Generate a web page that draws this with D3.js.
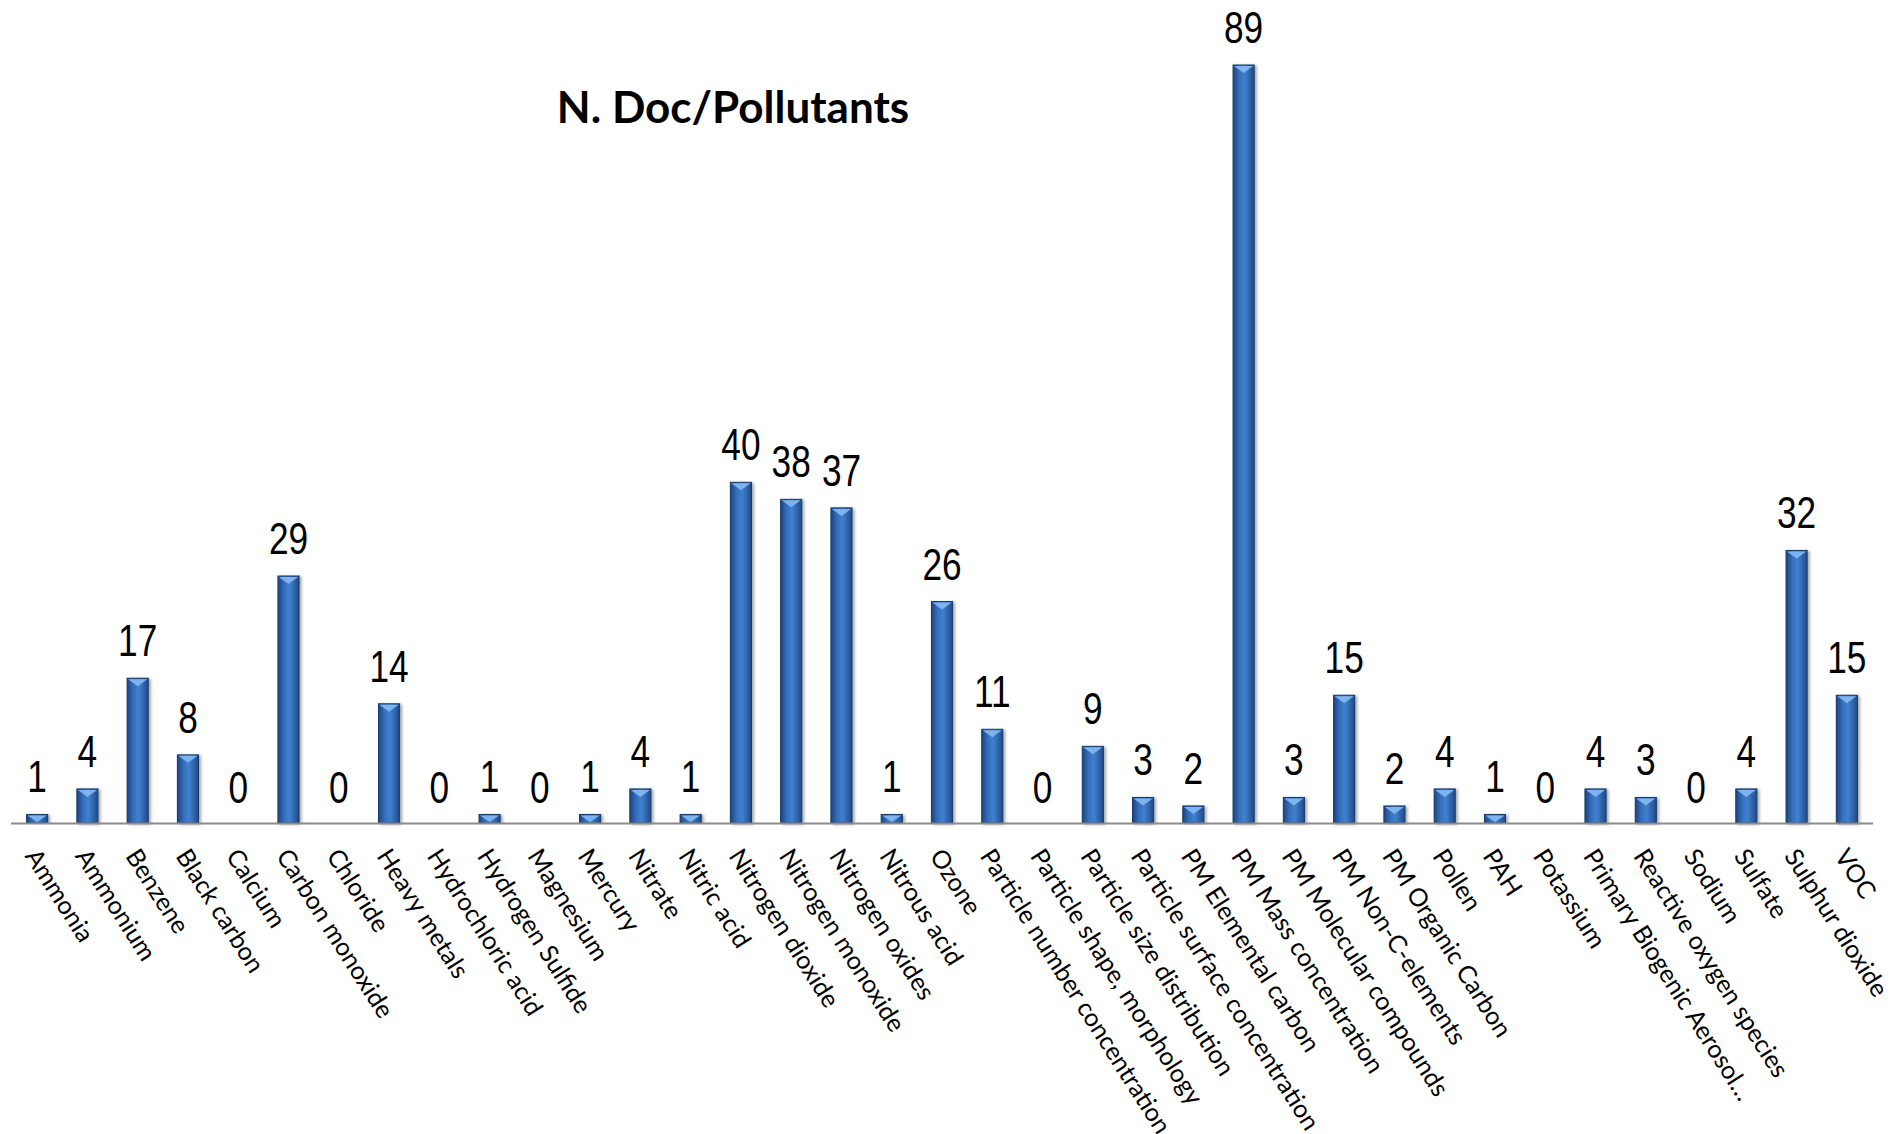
<!DOCTYPE html>
<html>
<head>
<meta charset="utf-8">
<script src="https://cdn.jsdelivr.net/npm/d3@7"></script>
<style>
  html, body { margin: 0; padding: 0; background: #fff; }
  svg { display: block; }
</style>
</head>
<body>
<div id="chart"></div>
<script>
'use strict';

var categories = ["Ammonia", "Ammonium", "Benzene", "Black carbon", "Calcium", "Carbon monoxide",
    "Chloride", "Heavy metals", "Hydrochloric acid", "Hydrogen Sulfide", "Magnesium", "Mercury",
    "Nitrate", "Nitric acid", "Nitrogen dioxide", "Nitrogen monoxide", "Nitrogen oxides", "Nitrous acid",
    "Ozone", "Particle number concentration", "Particle shape, morphology", "Particle size distribution",
    "Particle surface concentration", "PM Elemental carbon", "PM Mass concentration",
    "PM Molecular compounds", "PM Non-C-elements", "PM Organic Carbon", "Pollen", "PAH", "Potassium",
    "Primary Biogenic Aerosol\u2026", "Reactive oxygen species", "Sodium", "Sulfate", "Sulphur dioxide", "VOC"];

var docCounts = [1, 4, 17, 8, 0, 29, 0, 14, 0, 1, 0, 1, 4, 1, 40, 38, 37, 1, 26, 11, 0, 9, 3, 2, 89,
    3, 15, 2, 4, 1, 0, 4, 3, 0, 4, 32, 15];

var chartTitle = "N. Doc/Pollutants";

drawChart();

function drawChart() {

    var svgWidth = 1895,
        svgHeight = 1134;

    var svg = d3.select("#chart")
        .append("svg")
        .attr("width", svgWidth)
        .attr("height", svgHeight);

    var defs = svg.append("defs");

    // bar body: darker at the edges, lighter in the middle
    var grad = defs.append("linearGradient")
        .attr("id", "barGrad")
        .attr("x1", "0%").attr("x2", "100%")
        .attr("y1", "0%").attr("y2", "0%");
    grad.append("stop").attr("offset", "0%").attr("stop-color", "#1d4580");
    grad.append("stop").attr("offset", "30%").attr("stop-color", "#356fbd");
    grad.append("stop").attr("offset", "55%").attr("stop-color", "#4180cf");
    grad.append("stop").attr("offset", "100%").attr("stop-color", "#1f4a88");

    var shadow = defs.append("filter").attr("id", "shadow")
        .attr("x", "-50%").attr("y", "-10%").attr("width", "200%").attr("height", "120%");
    shadow.append("feDropShadow")
        .attr("dx", 2).attr("dy", 1)
        .attr("stdDeviation", 1.5)
        .attr("flood-color", "#000")
        .attr("flood-opacity", 0.35);

    var x = d3.scaleBand()
        .domain(categories)
        .range([12, 1872])
        .paddingInner(0.58)
        .paddingOuter(0.29);

    var y = d3.scaleLinear()
        .domain([0, d3.max(docCounts)])
        .range([823, 65]);

    var data = categories.map(function (c, i) { return { name: c, value: docCounts[i] }; });

    // title
    svg.append("text")
        .attr("x", 733)
        .attr("y", 123)
        .attr("text-anchor", "middle")
        .style("font-family", "Lato, Carlito, Calibri, sans-serif")
        .style("font-weight", "bold")
        .style("font-size", "44px")
        .text(chartTitle);

    var bars = svg.selectAll("g.bar")
        .data(data)
        .enter().append("g")
        .attr("class", "bar")
        .attr("filter", "url(#shadow)");

    bars.filter(function (d) { return d.value > 0; })
        .append("rect")
        .attr("x", function (d) { return x(d.name); })
        .attr("y", function (d) { return y(d.value); })
        .attr("width", x.bandwidth())
        .attr("height", function (d) { return y(0) - y(d.value); })
        .attr("fill", "url(#barGrad)")
        .attr("stroke", "#183a6b")
        .attr("stroke-width", 1);

    // light bevel triangle on top of each bar
    bars.filter(function (d) { return d.value > 0; })
        .append("path")
        .attr("d", function (d) {
            var x0 = x(d.name) + 1, x1 = x(d.name) + x.bandwidth() - 1;
            var top = y(d.value) + 1;
            var depth = Math.min(7, (y(0) - y(d.value)) - 2);
            var mid = (x0 + x1) / 2;
            return "M" + x0 + "," + top + "L" + x1 + "," + top + "L" + mid + "," + (top + depth) + "Z";
        })
        .attr("fill", "#7fb3ee");

    // axis line
    svg.append("line")
        .attr("x1", 11).attr("x2", 1873)
        .attr("y1", y(0) + 0.5).attr("y2", y(0) + 0.5)
        .attr("stroke", "#8c8c8c")
        .attr("stroke-width", 2);

    // value labels (narrow look, squeezed horizontally)
    svg.selectAll("text.value")
        .data(data)
        .enter().append("text")
        .attr("class", "value")
        .attr("transform", function (d) {
            var tx = x(d.name) + x.bandwidth() / 2;
            var ty = d.value > 0 ? y(d.value) - 22 : y(0) - 20;
            return "translate(" + tx + "," + ty + ") scale(0.8,1)";
        })
        .attr("text-anchor", "middle")
        .style("font-family", "'Liberation Sans Narrow', 'Arial Narrow', 'Liberation Sans', sans-serif")
        .style("font-size", "44px")
        .text(function (d) { return d.value; });

    // category labels, rotated
    svg.selectAll("text.cat")
        .data(data)
        .enter().append("text")
        .attr("class", "cat")
        .attr("transform", function (d) {
            var cx = x(d.name) + x.bandwidth() / 2 - 13;
            return "translate(" + cx + "," + 856 + ") rotate(57.5)";
        })
        .attr("text-anchor", "start")
        .style("font-family", "Lato, Carlito, Calibri, sans-serif")
        .style("font-size", "25px")
        .text(function (d) { return d.name; });
}
</script>
</body>
</html>
